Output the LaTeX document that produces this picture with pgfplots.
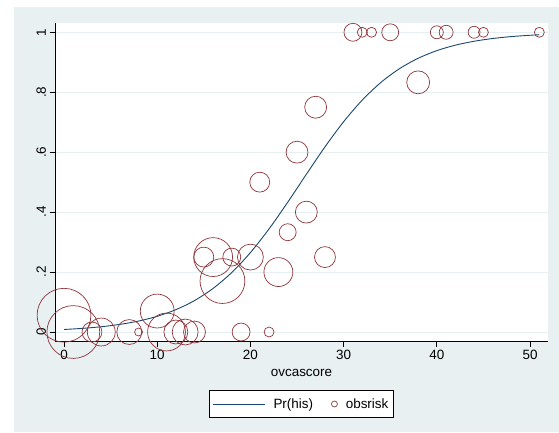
\documentclass[border=0pt]{standalone}
\usepackage{pgfplots}
\pgfplotsset{compat=1.18}
\usepackage{pgfplotstable}
\usepackage{fontspec}
\setmainfont{Liberation Sans}
\definecolor{bgc}{RGB}{232,240,242}
\definecolor{gridc}{RGB}{230,239,241}
\definecolor{navyc}{RGB}{26,71,111}
\definecolor{maroonc}{RGB}{144,53,59}
\pgfplotstableread{
x y r
0 0.056 27
1 0 26.5
3 0 10
4 0 14
7 0 12.5
8 0 4
10 0.07 17
11 0 19
12 0 12
13 0 13
14 0 11
15 0.25 10
16 0.25 19.5
17 0.17 22.5
18 0.25 9
19 0 9
20 0.25 13
21 0.5 10
22 0 5
23 0.2 14.5
24 0.333 8.5
25 0.6 11
26 0.4 11
27 0.75 11
28 0.25 10.5
31 1 9
32 1 5
33 1 5
35 1 8.5
38 0.833 11.5
40 1 6.5
41 1 7
44 1 6
45 1 5
51 1 5
}\obsdata
\pgfplotstableread{
x p
0 0.0084
2 0.0122
4 0.0176
6 0.0255
8 0.0366
10 0.0524
12 0.0745
14 0.1048
16 0.1456
18 0.1986
20 0.2650
22 0.3441
24 0.4329
26 0.5262
28 0.6177
30 0.7016
32 0.7738
34 0.8327
36 0.8787
38 0.9133
40 0.9388
42 0.9571
44 0.9701
46 0.9793
48 0.9857
50 0.9901
51 0.9918
}\prdata
\begin{document}
\begin{tikzpicture}[x=1bp,y=1bp]
\path[use as bounding box] (0,0) rectangle (559,432);
\fill[bgc] (14,0) rectangle (559,425);
\begin{axis}[
  at={(55bp,91bp)}, anchor=south west,
  scale only axis, width=493bp, height=318bp,
  xmin=-0.966, xmax=51.93, ymin=-0.030, ymax=1.031,
  axis x line*=bottom, axis y line*=left,
  axis background/.style={fill=white},
  axis line style={black, line width=0.9bp},
  tick style={black, line width=0.9bp},
  tick align=outside, major tick length=5.5bp,
  xtick={0,10,20,30,40,50}, xticklabels={0,10,20,30,40,50},
  ytick={0,0.2,0.4,0.6,0.8,1}, yticklabels={0,.2,.4,.6,.8,1},
  /pgf/number format/assume math mode=true,
  ymajorgrids, grid style={gridc, line width=0.9bp},
  tick label style={font=\fontsize{13.5}{15}\selectfont},
  yticklabel style={rotate=90, anchor=south},
  xlabel={ovcascore},
  every axis x label/.style={at={(axis description cs:0.5,0)}, anchor=center, yshift=-32bp, font=\fontsize{13.5}{15}\selectfont},
  legend columns=2,
  legend style={at={(0.5,-0.198)}, anchor=center, draw=black, line width=0.9bp, fill=white,
    font=\fontsize{13.5}{15}\selectfont, inner xsep=3bp, inner ysep=6bp,
    /tikz/every odd column/.append style={column sep=6bp},
    /tikz/every even column/.append style={column sep=16bp}},
  clip=false,
]
\addplot[navyc, line width=0.9bp, smooth, no markers,
  legend image code/.code={\draw[navyc, line width=0.9bp] (0bp,0bp) -- (52bp,0bp);}]
  table[x=x, y=p] {\prdata};
\addlegendentry{Pr(his)}
\addplot[scatter, only marks, mark=o,
  scatter/use mapped color={draw=maroonc, fill=none},
  visualization depends on={\thisrow{r} \as \rad},
  scatter/@pre marker code/.append style={/tikz/mark size=\rad},
  mark options={line width=0.7bp},
  legend image code/.code={\draw[maroonc, line width=0.7bp] (0bp,0bp) circle (3bp);}]
  table[x=x, y=y] {\obsdata};
\addlegendentry{obsrisk}
\end{axis}
\end{tikzpicture}
\end{document}
